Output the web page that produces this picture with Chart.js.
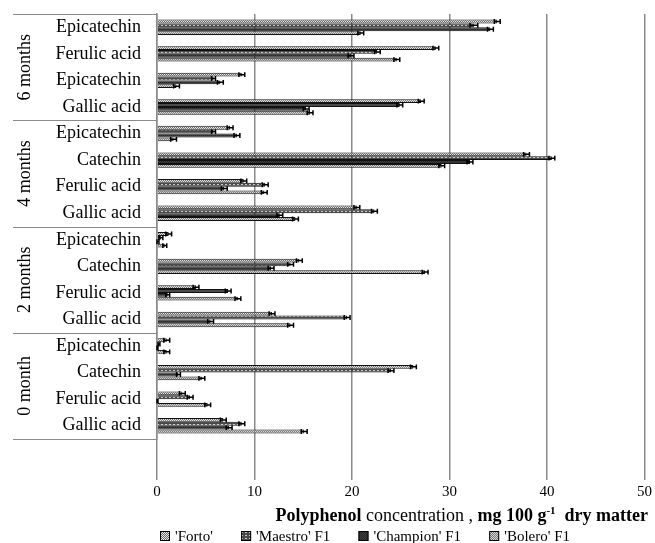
<!DOCTYPE html>
<html>
<head>
<meta charset="utf-8">
<script src="https://cdn.jsdelivr.net/npm/chart.js@4"></script>
<style>
  html, body { margin: 0; padding: 0; background: #fff; }
  canvas { display: block; }
</style>
</head>
<body>
<canvas id="grafico" width="655" height="543"></canvas>
<script>
// categorias de cima para baixo
const categorias = [
  'Epicatechin', 'Ferulic acid', 'Epicatechin', 'Gallic acid',
  'Epicatechin', 'Catechin', 'Ferulic acid', 'Gallic acid',
  'Epicatechin', 'Catechin', 'Ferulic acid', 'Gallic acid',
  'Epicatechin', 'Catechin', 'Ferulic acid', 'Gallic acid'
];
const grupos = ['6 months', '4 months', '2 months', '0 month'];
const series = ["'Forto'", "'Maestro' F1", "'Champion' F1", "'Bolero' F1"];
const ticksX = [0, 10, 20, 30, 40, 50];

const forto    = [34.9, 28.6, 8.7, 27.1, 7.5, 37.9, 8.9, 20.5, 1.2, 14.6, 4.0, 11.8, 1.0, 26.3, 2.6, 6.8];
const maestro  = [32.5, 22.6, 5.8, 24.9, 5.8, 40.5, 11.1, 22.3, 0.4, 13.7, 7.3, 19.5, 0.2, 24.0, 3.4, 8.7];
const champion = [34.2, 19.9, 6.5, 15.3, 8.2, 32.1, 6.9, 12.6, 0.1, 11.7, 1.1, 5.5, 0.05, 2.2, 0.05, 7.4];
const bolero   = [20.9, 24.6, 2.0, 15.7, 1.7, 29.2, 11.0, 14.2, 0.8, 27.5, 8.3, 13.7, 1.0, 4.6, 5.2, 15.1];

const erroForto    = [0.3, 0.3, 0.3, 0.3, 0.3, 0.3, 0.3, 0.3, 0.3, 0.3, 0.3, 0.3, 0.3, 0.3, 0.3, 0.3];
const erroMaestro  = [0.4, 0.3, 0.2, 0.3, 0.2, 0.3, 0.3, 0.3, 0.2, 0.3, 0.3, 0.3, 0.1, 0.3, 0.3, 0.3];
const erroChampion = [0.3, 0.3, 0.3, 0.3, 0.3, 0.3, 0.3, 0.3, 0.1, 0.3, 0.2, 0.3, 0.05, 0.2, 0.05, 0.3];
const erroBolero   = [0.3, 0.3, 0.3, 0.3, 0.3, 0.3, 0.3, 0.3, 0.2, 0.3, 0.3, 0.3, 0.3, 0.3, 0.3, 0.3];

const fonte = "'Liberation Serif', 'Times New Roman', serif";

// texturas em tons de cinza
function textura(linhas) {
  const c = document.createElement('canvas');
  c.width = linhas[0].length;
  c.height = linhas.length;
  const g = c.getContext('2d');
  linhas.forEach((l, y) => l.forEach((cor, x) => { g.fillStyle = cor; g.fillRect(x, y, 1, 1); }));
  return g.createPattern(c, 'repeat');
}
const pForto = textura([['#e4e4e4', '#6e6e6e'], ['#6e6e6e', '#e4e4e4']]);
const pMaestro = textura([
  ['#4a4a4a', '#4a4a4a', '#4a4a4a', '#4a4a4a'],
  ['#4a4a4a', '#c8c8c8', '#c8c8c8', '#4a4a4a'],
  ['#4a4a4a', '#4a4a4a', '#4a4a4a', '#4a4a4a']
]);
const pChampion = textura([['#2b2b2b', '#3a3a3a'], ['#3a3a3a', '#2b2b2b']]);
const pBolero = textura([['#d6d6d6', '#7a7a7a'], ['#7a7a7a', '#d6d6d6']]);
const padroes = [pForto, pMaestro, pChampion, pBolero];
const erros = [erroForto, erroMaestro, erroChampion, erroBolero];

// barras de erro
const barrasErro = {
  id: 'barrasErro',
  afterDatasetsDraw(chart) {
    const ctx = chart.ctx, xs = chart.scales.x;
    ctx.save();
    ctx.strokeStyle = '#000';
    ctx.lineWidth = 1.5;
    chart.data.datasets.forEach((ds, i) => {
      chart.getDatasetMeta(i).data.forEach((bar, j) => {
        const v = ds.data[j], e = erros[i][j];
        const x1 = xs.getPixelForValue(Math.max(0, v - e)), x2 = xs.getPixelForValue(v + e);
        const h = bar.height / 2 + 0.5;
        ctx.beginPath();
        ctx.moveTo(x1, bar.y); ctx.lineTo(x2, bar.y);
        ctx.moveTo(x1, bar.y - h); ctx.lineTo(x1, bar.y + h);
        ctx.moveTo(x2, bar.y - h); ctx.lineTo(x2, bar.y + h);
        ctx.stroke();
      });
    });
    ctx.restore();
  }
};

// grupos, título e legenda
const extras = {
  id: 'extras',
  afterDraw(chart) {
    const ctx = chart.ctx, a = chart.chartArea;
    const faixa = (a.bottom - a.top) / categorias.length;
    ctx.save();
    ctx.strokeStyle = '#8a8a8a';
    ctx.lineWidth = 1;
    for (let k = 0; k <= grupos.length; k++) {
      const y = Math.round(a.top + k * 4 * faixa) + 0.5;
      ctx.beginPath(); ctx.moveTo(13, y); ctx.lineTo(a.left, y); ctx.stroke();
    }
    ctx.fillStyle = '#000';
    ctx.font = '18px ' + fonte;
    ctx.textAlign = 'center';
    ctx.textBaseline = 'middle';
    grupos.forEach((g, k) => {
      const yc = a.top + (k * 4 + 2) * faixa;
      ctx.save();
      ctx.translate(25, yc);
      ctx.rotate(-Math.PI / 2);
      ctx.fillText(g, 0, 0);
      ctx.restore();
    });

    // título do eixo
    const partes = [
      ['Polyphenol', 'bold 18px ', 0],
      [' concentration , ', '18px ', 0],
      ['mg 100 g', 'bold 18px ', 0],
      ['-1', 'bold 11px ', -7],
      ['  dry matter', 'bold 18px ', 0]
    ];
    ctx.textAlign = 'left';
    ctx.textBaseline = 'alphabetic';
    let total = 0;
    partes.forEach(p => { ctx.font = p[1] + fonte; total += ctx.measureText(p[0]).width; });
    let x = 648 - total;
    partes.forEach(p => {
      ctx.font = p[1] + fonte;
      ctx.fillText(p[0], x, 521 + p[2]);
      x += ctx.measureText(p[0]).width;
    });

    // legenda
    ctx.font = '15px ' + fonte;
    ctx.textBaseline = 'middle';
    const larguras = series.map(s => ctx.measureText(s).width);
    const vao = (410 - larguras.reduce((s, w) => s + w, 0) - series.length * 15) / (series.length - 1);
    let lx = 160;
    const ly = 536;
    series.forEach((s, i) => {
      ctx.fillStyle = padroes[i];
      ctx.fillRect(lx, ly - 5, 10, 10);
      ctx.strokeStyle = '#000';
      ctx.strokeRect(lx + 0.5, ly - 4.5, 9, 9);
      ctx.fillStyle = '#000';
      ctx.fillText(s, lx + 15, ly + 1);
      lx += 15 + larguras[i] + vao;
    });
    ctx.restore();
  }
};

new Chart(document.getElementById('grafico'), {
  type: 'bar',
  data: {
    labels: categorias,
    datasets: [
      { label: series[0], data: forto, backgroundColor: pForto },
      { label: series[1], data: maestro, backgroundColor: pMaestro },
      { label: series[2], data: champion, backgroundColor: pChampion },
      { label: series[3], data: bolero, backgroundColor: pBolero }
    ].map(d => Object.assign(d, {
      borderColor: '#111',
      borderWidth: 1,
      categoryPercentage: 0.58,
      barPercentage: 1.0
    }))
  },
  options: {
    indexAxis: 'y',
    responsive: false,
    animation: false,
    layout: { padding: { left: 0, top: 14, right: 10, bottom: 0 } },
    plugins: {
      legend: { display: false },
      title: { display: false },
      tooltip: { enabled: false }
    },
    scales: {
      x: {
        min: 0, max: 50,
        afterFit: s => { s.height = 104; s.paddingLeft = 0; },
        afterBuildTicks: s => { s.ticks = ticksX.map(v => ({ value: v })); },
        grid: { color: '#8a8a8a', lineWidth: 1.5, drawTicks: true, tickLength: 41 },
        border: { display: false },
        ticks: { color: '#000', font: { family: fonte, size: 15 }, padding: 3 }
      },
      y: {
        afterFit: s => { s.width = 157; s.paddingTop = 0; s.paddingBottom = 0; },
        grid: { display: false, drawTicks: false },
        border: { display: true, color: '#8a8a8a', width: 1.5 },
        ticks: { color: '#000', font: { family: fonte, size: 18 }, padding: 16, autoSkip: false }
      }
    }
  },
  plugins: [barrasErro, extras]
});
</script>
</body>
</html>
